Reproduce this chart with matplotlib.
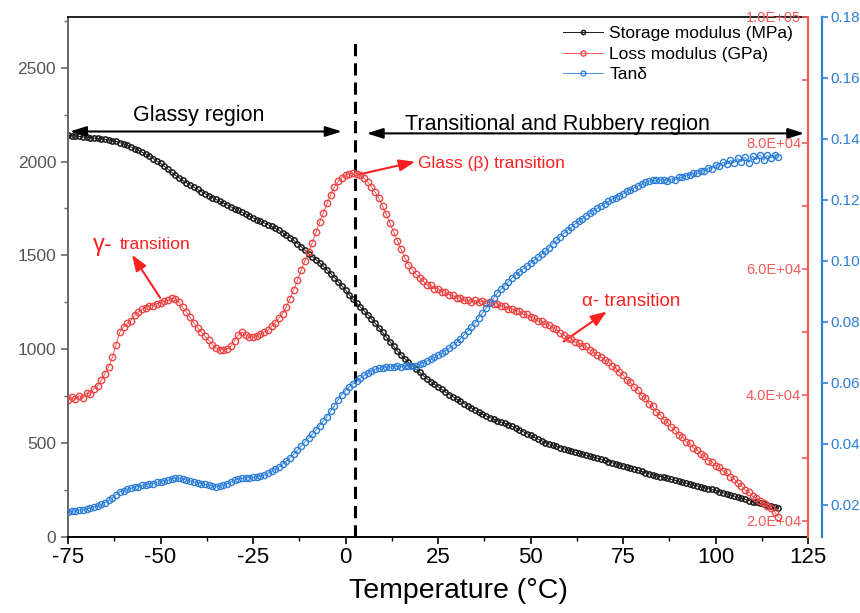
import numpy as np
import matplotlib
matplotlib.use('Agg')
import matplotlib.pyplot as plt
from matplotlib.ticker import MultipleLocator, FuncFormatter

plt.rcParams['font.family'] = ['Liberation Sans', 'DejaVu Sans']
plt.rcParams['axes.unicode_minus'] = False

# DMA sweep, one reading per 1 °C
temperature = np.arange(-75, 118)

storage_modulus = [
    2140, 2138, 2136, 2134, 2132, 2130, 2128, 2125, 2123, 2120,
    2118, 2115, 2111, 2107, 2101, 2095, 2087, 2078, 2069, 2060,
    2050, 2040, 2029, 2016, 2003, 1990, 1975, 1959, 1943, 1927,
    1913, 1899, 1887, 1875, 1863, 1852, 1840, 1829, 1819, 1808,
    1798, 1788, 1779, 1769, 1759, 1749, 1740, 1730, 1720, 1710,
    1700, 1690, 1681, 1673, 1664, 1655, 1645, 1633, 1621, 1608,
    1595, 1580, 1563, 1546, 1528, 1510, 1494, 1477, 1460, 1441,
    1422, 1403, 1382, 1360, 1338, 1315, 1290, 1266, 1245, 1225,
    1205, 1185, 1162, 1139, 1115, 1091, 1066, 1041, 1016, 990,
    970, 950, 930, 912, 895, 878, 860, 843, 828, 814,
    800, 786, 772, 759, 747, 735, 723, 711, 700, 688,
    676, 664, 654, 645, 636, 628, 620, 613, 606, 598,
    590, 581, 571, 561, 551, 541, 531, 522, 513, 503,
    496, 489, 483, 476, 470, 464, 458, 452, 447, 442,
    436, 431, 425, 420, 414, 408, 402, 396, 390, 385,
    379, 373, 367, 361, 355, 349, 343, 337, 332, 327,
    322, 317, 312, 307, 302, 297, 292, 287, 282, 277,
    272, 267, 262, 258, 253, 248, 242, 236, 230, 224,
    218, 212, 206, 200, 194, 189, 184, 179, 174, 169,
    164, 159, 154,
]

loss_modulus = [
    39200, 39700, 39300, 39900, 39500, 40300, 40100, 41000, 41500, 42300,
    43400, 44500, 46000, 48000, 50000, 50800, 51400, 51800, 52700, 53200,
    53600, 53800, 54200, 54200, 54500, 54600, 54900, 55000, 55400, 55300,
    54700, 53900, 53200, 52300, 51400, 50700, 50000, 49300, 48700, 48000,
    47500, 47200, 47150, 47300, 47700, 48600, 49500, 50000, 49600, 49200,
    49200, 49300, 49700, 50000, 50300, 50900, 51500, 52200, 52900, 54000,
    55300, 56700, 58200, 59800, 61300, 62700, 64200, 65800, 67400, 68900,
    70400, 71800, 73000, 73900, 74500, 74900, 75100, 75200, 75100, 74900,
    74400, 73800, 73000, 72200, 71200, 70000, 68700, 67300, 65900, 64500,
    63100, 61800, 60700, 59900, 59200, 58600, 58100, 57500, 57400, 56900,
    56900, 56400, 56300, 55900, 55800, 55400, 55400, 55000, 55100, 54800,
    55000, 54700, 54900, 54600, 54700, 54400, 54500, 54100, 54100, 53700,
    53700, 53300, 53300, 52800, 52800, 52300, 52200, 51700, 51700, 51200,
    51100, 50600, 50400, 49800, 49600, 49000, 48900, 48400, 48300, 47800,
    47700, 47100, 46900, 46300, 46100, 45500, 45300, 44600, 44300, 43600,
    43200, 42400, 42000, 41200, 40800, 39900, 39500, 38600, 38200, 37300,
    36900, 36100, 35700, 34900, 34500, 33700, 33400, 32600, 32300, 31600,
    31300, 30600, 30300, 29600, 29400, 28800, 28500, 27900, 27700, 27000,
    26700, 26000, 25600, 24900, 24600, 23900, 23700, 23100, 22900, 22300,
    22100, 21400, 20600,
]

tan_delta = [
    0.0178, 0.0181, 0.0179, 0.0184, 0.0183, 0.0187, 0.0189, 0.0194, 0.0196, 0.0202,
    0.0208, 0.0215, 0.0224, 0.0234, 0.0243, 0.0247, 0.0252, 0.0254, 0.0259, 0.0260,
    0.0264, 0.0265, 0.0270, 0.0270, 0.0275, 0.0276, 0.0280, 0.0281, 0.0286, 0.0287,
    0.0287, 0.0285, 0.0282, 0.0279, 0.0276, 0.0273, 0.0270, 0.0268, 0.0265, 0.0262,
    0.0260, 0.0261, 0.0264, 0.0270, 0.0276, 0.0281, 0.0285, 0.0288, 0.0289, 0.0290,
    0.0291, 0.0292, 0.0294, 0.0298, 0.0304, 0.0311, 0.0318, 0.0325, 0.0335, 0.0345,
    0.0355, 0.0366, 0.0380, 0.0393, 0.0406, 0.0419, 0.0432, 0.0446, 0.0460, 0.0475,
    0.0490, 0.0508, 0.0526, 0.0545, 0.0562, 0.0575, 0.0588, 0.0598, 0.0607, 0.0616,
    0.0625, 0.0632, 0.0640, 0.0645, 0.0648, 0.0650, 0.0652, 0.0653, 0.0653, 0.0654,
    0.0653, 0.0654, 0.0654, 0.0655, 0.0657, 0.0662, 0.0667, 0.0672, 0.0677, 0.0684,
    0.0691, 0.0698, 0.0706, 0.0714, 0.0723, 0.0733, 0.0745, 0.0757, 0.0770, 0.0784,
    0.0798, 0.0813, 0.0829, 0.0845, 0.0862, 0.0878, 0.0894, 0.0907, 0.0919, 0.0932,
    0.0944, 0.0954, 0.0964, 0.0974, 0.0983, 0.0993, 0.1002, 0.1012, 0.1022, 0.1032,
    0.1043, 0.1056, 0.1068, 0.1080, 0.1091, 0.1101, 0.1111, 0.1121, 0.1130, 0.1139,
    0.1148, 0.1157, 0.1165, 0.1173, 0.1180, 0.1188, 0.1195, 0.1202, 0.1208, 0.1214,
    0.1221, 0.1228, 0.1234, 0.1240, 0.1246, 0.1252, 0.1258, 0.1262, 0.1264, 0.1265,
    0.1266, 0.1266, 0.1261, 0.1270, 0.1266, 0.1274, 0.1274, 0.1280, 0.1281, 0.1288,
    0.1287, 0.1296, 0.1294, 0.1306, 0.1303, 0.1314, 0.1310, 0.1324, 0.1318, 0.1330,
    0.1322, 0.1336, 0.1326, 0.1340, 0.1322, 0.1344, 0.1332, 0.1348, 0.1330, 0.1346,
    0.1338, 0.1348, 0.1342,
]

x_ticks = [-75, -50, -25, 0, 25, 50, 75, 100, 125]
storage_ticks = [0, 500, 1000, 1500, 2000, 2500]
loss_ticks = [2.0e4, 4.0e4, 6.0e4, 8.0e4, 1.0e5]
tan_ticks = [0.02, 0.04, 0.06, 0.08, 0.10, 0.12, 0.14, 0.16, 0.18]

tg_temp = 2.5  # glass transition marker

black = '#1a1a1a'
red = '#f04545'
red_axis = '#f25a5a'
red_note = '#ff2020'
blue = '#2e7fd9'
grey = '#666666'

fig = plt.figure(figsize=(8.6, 6.13), dpi=100)
ax = fig.add_axes([0.0791, 0.124, 0.8605, 0.8483])
ax2 = ax.twinx()
ax3 = ax.twinx()

l1, = ax.plot(temperature, storage_modulus, '-o', color=black, mfc='none',
              ms=3.8, mew=1.1, lw=0.7, label='Storage modulus (MPa)')
l2, = ax2.plot(temperature, loss_modulus, '-o', color=red, mfc='none',
               ms=4.6, mew=1.0, lw=0.6, label='Loss modulus (GPa)')
l3, = ax3.plot(temperature, tan_delta, '-o', color=blue, mfc='none',
               ms=4.4, mew=1.0, lw=0.6, label='Tanδ')

# left axis: storage modulus
ax.set_xlim(-75, 125)
ax.set_ylim(0, 2770)
ax.set_xticks(x_ticks)
ax.xaxis.set_minor_locator(MultipleLocator(12.5))
ax.set_yticks(storage_ticks)
ax.yaxis.set_minor_locator(MultipleLocator(250))
ax.tick_params(axis='x', which='both', direction='out', color='black',
               labelsize=16, pad=2)
ax.tick_params(axis='x', which='major', length=5, width=1.2)
ax.tick_params(axis='x', which='minor', length=3, width=1.0)
ax.tick_params(axis='y', which='both', direction='out', color=grey,
               labelcolor='#555555', labelsize=12.5)
ax.tick_params(axis='y', which='major', length=5, width=1.2)
ax.tick_params(axis='y', which='minor', length=3, width=1.0)
ax.spines['left'].set_color(grey)
ax.spines['left'].set_linewidth(1.4)
ax.spines['bottom'].set_linewidth(1.4)
ax.spines['top'].set_linewidth(1.2)
ax.spines['right'].set_visible(False)
ax.set_xlabel('Temperature (°C)', fontsize=20.5)
ax.xaxis.set_label_coords(0.527, -0.078)

# inner right axis: loss modulus, labels drawn inside the frame
ax2.set_ylim(17460, 100000)
ax2.set_yticks(loss_ticks)
ax2.yaxis.set_minor_locator(MultipleLocator(1e4))
ax2.yaxis.set_major_formatter(FuncFormatter(lambda v, p: f'{v:.1E}'))
ax2.tick_params(axis='y', which='both', direction='in', color=red_axis,
                labelcolor=red_axis, labelsize=10.5, pad=-5, length=4, width=1.2)
for t in ax2.yaxis.get_major_ticks():
    t.label2.set_horizontalalignment('right')
ax2.spines['right'].set_color(red_axis)
ax2.spines['right'].set_linewidth(1.6)
for s in ['top', 'left', 'bottom']:
    ax2.spines[s].set_visible(False)

# outer right axis: tan delta
ax3.set_ylim(0.0095, 0.18)
ax3.set_yticks(tan_ticks)
ax3.yaxis.set_major_formatter(FuncFormatter(lambda v, p: f'{v:.2f}'))
ax3.spines['right'].set_position(('outward', 10))
ax3.spines['right'].set_color(blue)
ax3.spines['right'].set_linewidth(1.6)
for s in ['top', 'left', 'bottom']:
    ax3.spines[s].set_visible(False)
ax3.tick_params(axis='y', direction='out', color=blue, labelcolor=blue,
                labelsize=11, length=4, width=1.2, pad=2)

# glass transition line and region arrows
ax.axvline(tg_temp, ymax=0.952, color='black', lw=2.2, dashes=(4, 2.3))
region_arrow = dict(arrowstyle='<|-|>,head_length=0.7,head_width=0.22',
                    color='black', lw=1.5, shrinkA=0, shrinkB=0, mutation_scale=14)
ax.annotate('', xy=(-74.5, 2160), xytext=(-1, 2160), arrowprops=region_arrow)
ax.annotate('', xy=(5.7, 2150), xytext=(124, 2150), arrowprops=region_arrow)
ax.text(-39.6, 2214, 'Glassy region', ha='center', va='baseline', fontsize=15.5)
ax.text(57.4, 2170, 'Transitional and Rubbery region', ha='center',
        va='baseline', fontsize=15.5)

# transition labels
note_arrow = dict(arrowstyle='-|>,head_length=0.8,head_width=0.3',
                  color=red_note, lw=1.5, shrinkA=0, shrinkB=0, mutation_scale=12)
ax.annotate('', xy=(18.8, 1999), xytext=(3.4, 1930), arrowprops=note_arrow)
ax.text(19.6, 1988, 'Glass (β) transition', color=red_note, fontsize=12.5,
        ha='left', va='center')
ax.annotate('', xy=(-57.7, 1503), xytext=(-50.1, 1274), arrowprops=note_arrow)
ax.text(-68.4, 1556, 'γ-', color=red_note, fontsize=17, ha='left', va='center')
ax.text(-61.0, 1556, 'transition', color=red_note, fontsize=12.5,
        ha='left', va='center')
ax.annotate('', xy=(70.6, 1201), xytext=(58.9, 1041), arrowprops=note_arrow)
ax.text(63.9, 1253, 'α- transition', color=red_note, fontsize=13.5,
        ha='left', va='center')

ax3.legend(handles=[l1, l2, l3], loc='upper right', bbox_to_anchor=(0.98, 0.982),
           frameon=False, fontsize=12.5, handlelength=2.3, handletextpad=0.35,
           labelspacing=0.3, borderpad=0, borderaxespad=0, markerscale=0.8)

fig.savefig('out.png', dpi=100)
